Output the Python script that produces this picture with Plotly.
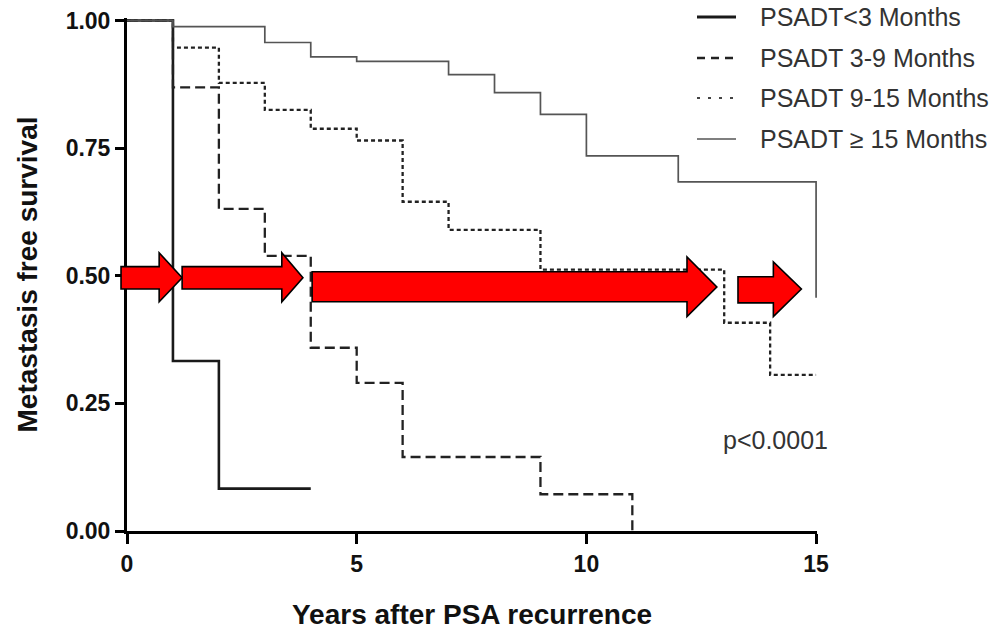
import plotly.graph_objects as go

# ---- data ----
series_names = ["PSADT<3 Months", "PSADT 3-9 Months", "PSADT 9-15 Months", "PSADT \u2265 15 Months"]

years_lt3 = [0, 1, 2, 4]
surv_lt3 = [1.0, 0.333, 0.083, 0.083]

years_3_9 = [0, 1, 2, 3, 4, 5, 6, 9, 11]
surv_3_9 = [1.0, 0.869, 0.631, 0.539, 0.359, 0.290, 0.145, 0.072, 0.0]

years_9_15 = [0, 1, 2, 3, 4, 5, 6, 7, 9, 13, 14, 15]
surv_9_15 = [1.0, 0.947, 0.878, 0.825, 0.788, 0.765, 0.645, 0.590, 0.512, 0.408, 0.306, 0.306]

years_ge15 = [0, 1, 3, 4, 5, 7, 8, 9, 10, 12, 15]
surv_ge15 = [1.0, 0.988, 0.957, 0.929, 0.920, 0.894, 0.859, 0.816, 0.735, 0.684, 0.457]

x_ticks = [0, 5, 10, 15]
y_ticks = [0, 0.25, 0.5, 0.75, 1.0]
y_tick_labels = ["0.00", "0.25", "0.50", "0.75", "1.00"]

p_value_text = "p<0.0001"

# arrows (decoration), in data units:
# tail x, head-base x, tip x, body top, body bottom, head top, head bottom, tip y
arrows = [
    (-0.13, 0.70, 1.20, 0.518, 0.474, 0.545, 0.449, 0.496),
    (1.20, 3.37, 3.83, 0.518, 0.474, 0.545, 0.449, 0.496),
    (4.03, 12.19, 12.84, 0.508, 0.449, 0.537, 0.420, 0.478),
    (13.30, 14.07, 14.68, 0.498, 0.447, 0.527, 0.420, 0.474),
]

X_RANGE = [0, 15.02]
Y_RANGE = [0, 1.005]

FONT = "Liberation Sans, Arial, sans-serif"
W, H = 991, 630
M_L, M_R, M_T, M_B = 127, 174, 18, 99
PLOT_W = W - M_L - M_R
PLOT_H = H - M_T - M_B

fig = go.Figure()

styles = [
    dict(color="#1a1a1a", width=2.6, dash="solid"),
    dict(color="#222222", width=2.3, dash="10px,5px"),
    dict(color="#222222", width=2.3, dash="4px,3px"),
    dict(color="#555555", width=1.7, dash="solid"),
]
legend_styles = [
    dict(color="#1a1a1a", width=3.0, dash="solid"),
    dict(color="#222222", width=2.6, dash="8px,6px"),
    dict(color="#444444", width=2.2, dash="3px,8px"),
    dict(color="#555555", width=1.6, dash="solid"),
]
xs = [years_lt3, years_3_9, years_9_15, years_ge15]
ys = [surv_lt3, surv_3_9, surv_9_15, surv_ge15]

for i in range(4):
    fig.add_trace(go.Scatter(
        x=xs[i], y=ys[i], mode="lines", line_shape="hv",
        line=styles[i], name=series_names[i], showlegend=False,
    ))


def dx(x):
    return (x - X_RANGE[0]) / (X_RANGE[1] - X_RANGE[0])


def dy(y):
    return (y - Y_RANGE[0]) / (Y_RANGE[1] - Y_RANGE[0])


def pxp(px):
    return (px - M_L) / PLOT_W


def pyp(py):
    return (H - M_B - py) / PLOT_H


for (t, b, tip, bt, bb, ht, hb, ty) in arrows:
    pts = [(t, bt), (b, bt), (b, ht), (tip, ty), (b, hb), (b, bb), (t, bb)]
    path = "M " + " L ".join(f"{dx(a):.5f},{dy(c):.5f}" for a, c in pts) + " Z"
    fig.add_shape(type="path", path=path, xref="paper", yref="paper",
                  fillcolor="#FF0000", line=dict(color="black", width=1.6), layer="above")

# manual legend (top right)
legend_rows_py = [17, 58, 98, 139]
for i, row in enumerate(legend_rows_py):
    fig.add_shape(type="line", xref="paper", yref="paper",
                  x0=pxp(697), x1=pxp(736), y0=pyp(row), y1=pyp(row),
                  line=legend_styles[i])
    fig.add_annotation(x=pxp(758), y=pyp(row), xref="paper", yref="paper",
                       text=series_names[i], showarrow=False, xanchor="left", yanchor="middle",
                       font=dict(family=FONT, size=25, color="#333333"))

fig.add_annotation(x=14.11, y=0.178, xref="x", yref="y", text=p_value_text, showarrow=False,
                   font=dict(family=FONT, size=25, color="#333333"))

fig.update_xaxes(
    range=X_RANGE, tickvals=x_ticks, ticktext=[str(v) for v in x_ticks],
    showline=True, linewidth=3, linecolor="black", mirror=False,
    ticks="outside", ticklen=10, tickwidth=2.5, tickcolor="black",
    showgrid=False, zeroline=False,
    tickfont=dict(family=FONT, size=23, color="#111111", weight="bold"),
    title=dict(text="<b>Years after PSA recurrence</b>", standoff=30,
               font=dict(family=FONT, size=28, color="#111111")),
)
fig.update_yaxes(
    range=Y_RANGE, tickvals=y_ticks, ticktext=y_tick_labels,
    showline=True, linewidth=3, linecolor="black",
    ticks="outside", ticklen=9, tickwidth=2.5, tickcolor="black",
    showgrid=False, zeroline=False,
    tickfont=dict(family=FONT, size=23, color="#111111", weight="bold"),
    title=dict(text="<b>Metastasis free survival</b>", standoff=20,
               font=dict(family=FONT, size=28, color="#111111")),
)

fig.update_layout(
    width=W, height=H,
    margin=dict(l=M_L, r=M_R, t=M_T, b=M_B, autoexpand=False),
    plot_bgcolor="white", paper_bgcolor="white",
    showlegend=False,
)

fig.write_html("out.html")
